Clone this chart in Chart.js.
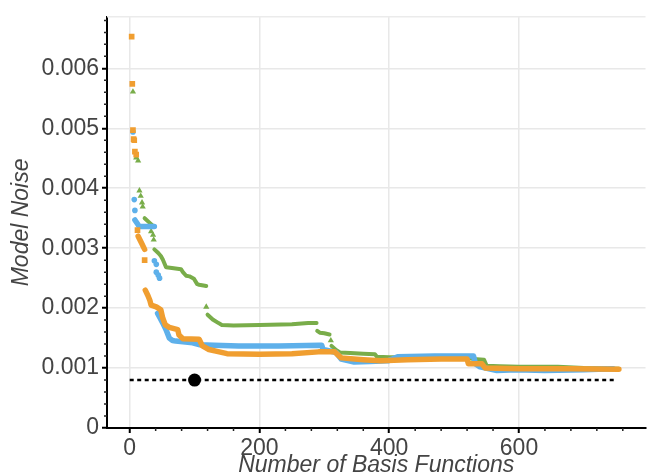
<!DOCTYPE html>
<html>
<head>
<meta charset="utf-8">
<script src="https://cdn.jsdelivr.net/npm/chart.js@4/dist/chart.umd.min.js"></script>
<style>
  html, body { margin: 0; padding: 0; background: #fff; }
</style>
</head>
<body>
<canvas id="grafico" width="652" height="476"></canvas>
<script>
// valores (null = quebra na linha)
const verdeX = [23, 30, 36, null, 38, 44, 48, 51, 56, 65, 79, 82, 87, 92, 99, 104, 107, 118, null,
  120, 128, 137, 142, 160, 200, 250, 275, 288, null,
  289, 293, 300, 308, null,
  311, 318, 324, 340, 360, 378, 381, 400, 450, 500, 520, 530, 546, 550, 570, 600, 660, 700, 754];
const verdeY = [0.00350, 0.00343, 0.00337, null, 0.00298, 0.00292, 0.00287, 0.00281, 0.00268, 0.00267, 0.00265, 0.00260, 0.00254, 0.00253, 0.00249, 0.00240, 0.00239, 0.00237, null,
  0.00189, 0.00181, 0.00175, 0.00172, 0.00171, 0.00172, 0.00173, 0.00175, 0.00175, null,
  0.00162, 0.00159, 0.00158, 0.00156, null,
  0.00137, 0.00130, 0.00126, 0.00125, 0.00124, 0.00123, 0.00119, 0.00118, 0.00118, 0.00118, 0.00117, 0.00115, 0.00114, 0.00104, 0.00103, 0.00102, 0.00102, 0.00100, 0.00099];
const verdeSoltosX = [5, 10, 13, 15, 17, 19, 20, 33, 36, 37, 118, 310];
const verdeSoltosY = [0.00561, 0.00451, 0.00446, 0.00396, 0.00387, 0.00376, 0.00369, 0.00328, 0.00322, 0.00314, 0.00202, 0.00146];

const azulX = [8, 13, 15, 25, 38, null,
  43, 47, 51, 56, 61, 66, 71, 97, 107, 130, 168, 230, 293, 296, 298, 310, 318, 326, 346, 370, 398, 413, 470, 530, 533, 540, 566, 596, 640, 700, 745];
const azulY = [0.00347, 0.00339, 0.00336, 0.00336, 0.00336, null,
  0.00191, 0.00183, 0.00175, 0.00164, 0.00150, 0.00146, 0.00145, 0.00142, 0.00139, 0.00138, 0.00137, 0.00137, 0.00138, 0.00138, 0.00131, 0.00128, 0.00126, 0.00115, 0.00110, 0.00111, 0.00112, 0.00119, 0.00120, 0.00120, 0.00107, 0.00102, 0.00096, 0.00097, 0.00096, 0.00097, 0.00099];
const azulSoltosX = [5, 7, 8, 38, 41, 41, 44, 46];
const azulSoltosY = [0.00494, 0.00381, 0.00363, 0.00279, 0.00273, 0.00260, 0.00255, 0.00250];

const laranjaX = [13, 18, 23, null,
  24, 28, 31, 33, 41, 48, 51, 55, 61, 74, 76, 82, 107, 112, 122, 138, 150, 200, 250, 291, 316, 326, 360, 387, 428, 480, 520, 522, 543, 548, 600, 680, 754];
const laranjaY = [0.00320, 0.00309, 0.00298, null,
  0.00230, 0.00221, 0.00213, 0.00205, 0.00202, 0.00197, 0.00183, 0.00172, 0.00168, 0.00164, 0.00155, 0.00149, 0.00148, 0.00137, 0.00131, 0.00127, 0.00124, 0.00123, 0.00124, 0.00127, 0.00127, 0.00117, 0.00114, 0.00112, 0.00114, 0.00115, 0.00115, 0.00107, 0.00107, 0.00100, 0.00099, 0.00099, 0.00098];
const laranjaSoltosX = [3, 4, 5, 6, 7, 8, 10, 12, 23];
const laranjaSoltosY = [0.00653, 0.00574, 0.00497, 0.00482, 0.00480, 0.00461, 0.00456, 0.00330, 0.00280];

// linha de referência pontilhada e o ponto escolhido
const referenciaX = [0, 750];
const referenciaY = [0.0008, 0.0008];
const escolhidoX = [100];
const escolhidoY = [0.0008];

const ticksX = [0, 200, 400, 600];
const ticksY = [0, 0.001, 0.002, 0.003, 0.004, 0.005, 0.006];

const cores = { verde: "#79ad4a", azul: "#5eb0ea", laranja: "#f09e30" };

function pares(xs, ys) {
    return xs.map((x, i) => ({ x: x, y: ys[i] }));
}

// marcas menores dos eixos + moldura clara em cima
const marcasMenores = {
    id: "marcasMenores",
    beforeDatasetsDraw(chart) {
        const { ctx, chartArea } = chart;
        ctx.save();
        ctx.strokeStyle = "#ebebeb";
        ctx.lineWidth = 1.5;
        ctx.beginPath();
        ctx.moveTo(chartArea.left, chartArea.top);
        ctx.lineTo(chartArea.right, chartArea.top);
        ctx.stroke();
        ctx.restore();
    },
    afterDraw(chart) {
        const { ctx, chartArea, scales } = chart;
        ctx.save();
        ctx.strokeStyle = "#222";
        ctx.lineWidth = 1.5;
        ctx.beginPath();
        for (let v = -40; v <= 800; v += 40) {
            if (v % 200 === 0) continue;
            const px = scales.x.getPixelForValue(v);
            if (px < chartArea.left || px > chartArea.right) continue;
            ctx.moveTo(px, chartArea.bottom);
            ctx.lineTo(px, chartArea.bottom + 3);
        }
        for (let i = 1; i <= 34; i++) {
            if (i % 5 === 0) continue;
            const py = scales.y.getPixelForValue(i * 0.0002);
            if (py < chartArea.top) continue;
            ctx.moveTo(chartArea.left, py);
            ctx.lineTo(chartArea.left - 3, py);
        }
        ctx.stroke();
        ctx.restore();
    }
};

Chart.defaults.font.family = '"Liberation Sans", Arial, sans-serif';
Chart.defaults.color = "#444";

const linha = (dados, cor, largura, ordem) => ({
    data: dados,
    showLine: true,
    spanGaps: false,
    borderColor: cor,
    borderWidth: largura,
    borderCapStyle: "round",
    borderJoinStyle: "round",
    pointRadius: 0,
    order: ordem
});

const soltos = (dados, cor, estilo, raio, ordem) => ({
    data: dados,
    showLine: false,
    pointStyle: estilo,
    pointRadius: raio,
    backgroundColor: cor,
    borderColor: cor,
    borderWidth: 0,
    order: ordem
});

new Chart(document.getElementById("grafico"), {
    type: "scatter",
    data: {
        datasets: [
            linha(pares(verdeX, verdeY), cores.verde, 4, 6),
            soltos(pares(verdeSoltosX, verdeSoltosY), cores.verde, "triangle", 3.6, 6),
            linha(pares(azulX, azulY), cores.azul, 5.5, 5),
            soltos(pares(azulSoltosX, azulSoltosY), cores.azul, "circle", 2.8, 5),
            linha(pares(laranjaX, laranjaY), cores.laranja, 5.5, 4),
            soltos(pares(laranjaSoltosX, laranjaSoltosY), cores.laranja, "rect", 4, 4),
            {
                data: pares(referenciaX, referenciaY),
                showLine: true,
                borderColor: "#000",
                borderWidth: 2.5,
                borderDash: [4, 3.5],
                pointRadius: 0,
                order: 1
            },
            {
                data: pares(escolhidoX, escolhidoY),
                pointRadius: 6.5,
                backgroundColor: "#000",
                borderWidth: 0,
                order: 0
            }
        ]
    },
    options: {
        responsive: false,
        animation: false,
        layout: { padding: { top: 10, right: 2, left: 0, bottom: 0 } },
        plugins: {
            legend: { display: false },
            tooltip: { enabled: false }
        },
        scales: {
            x: {
                type: "linear",
                min: -35,
                max: 795,
                afterFit: (s) => { s.height = 48; },
                afterBuildTicks: (s) => { s.ticks = ticksX.map(v => ({ value: v })); },
                grid: { color: "#e8e8e8", lineWidth: 1.5, tickColor: "#000", tickLength: 5, tickWidth: 2 },
                border: { color: "#000", width: 2 },
                ticks: { font: { size: 23 }, padding: 2, maxRotation: 0 },
                title: {
                    display: true,
                    text: "Number of Basis Functions",
                    font: { size: 23, style: "italic", lineHeight: 1 },
                    padding: { top: 0, bottom: -1 }
                }
            },
            y: {
                min: 0,
                max: 0.00686,
                afterFit: (s) => { s.width = 107; },
                afterBuildTicks: (s) => { s.ticks = ticksY.map(v => ({ value: v })); },
                grid: { color: "#e8e8e8", lineWidth: 1.5, tickColor: "#000", tickLength: 5, tickWidth: 2 },
                border: { color: "#000", width: 2 },
                ticks: {
                    font: { size: 23 },
                    padding: 3,
                    callback: (v) => v === 0 ? "0" : v.toFixed(3)
                },
                title: {
                    display: true,
                    text: "Model Noise",
                    font: { size: 23, style: "italic", lineHeight: 1.2 },
                    padding: { top: 8, bottom: 0 }
                }
            }
        }
    },
    plugins: [marcasMenores]
});
</script>
</body>
</html>
